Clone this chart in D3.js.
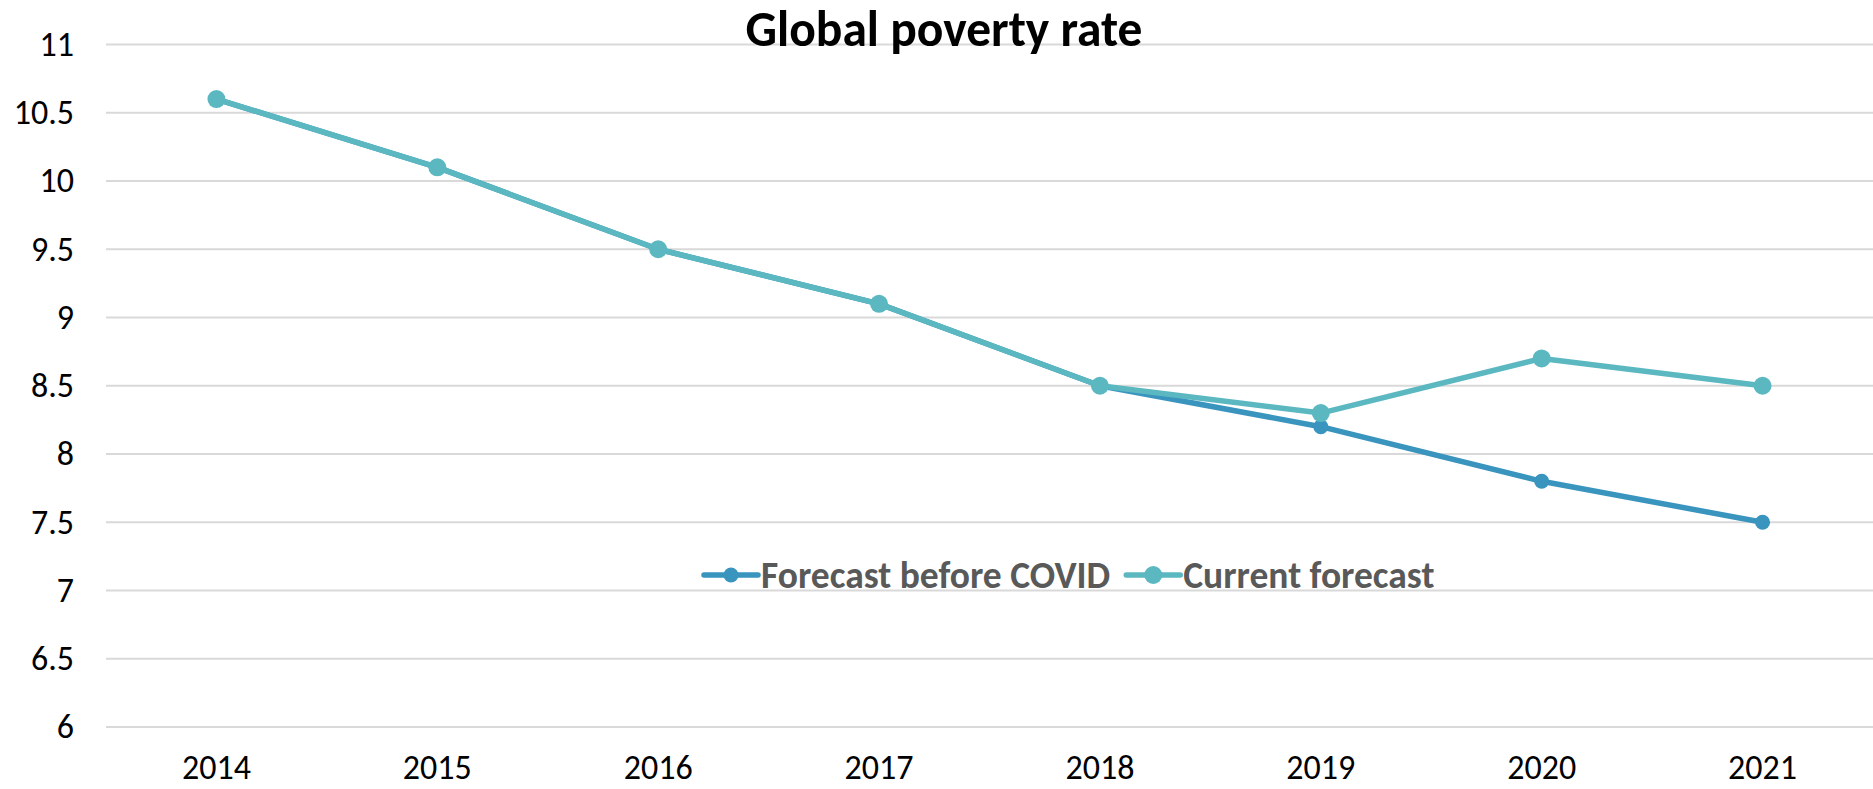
<!DOCTYPE html>
<html>
<head>
<meta charset="utf-8">
<script src="https://cdn.jsdelivr.net/npm/d3@7"></script>
<style>
  html, body { margin: 0; padding: 0; background: #fff; }
  svg { display: block; }
  text { font-family: Carlito, Lato, "Open Sans", sans-serif; }
</style>
</head>
<body>
<svg id="chart" width="1873" height="789"></svg>
<script>
// Chart data
const years = ["2014", "2015", "2016", "2017", "2018", "2019", "2020", "2021"];
const forecastBeforeCovid = [10.6, 10.1, 9.5, 9.1, 8.5, 8.2, 7.8, 7.5];
const currentForecast = [10.6, 10.1, 9.5, 9.1, 8.5, 8.3, 8.7, 8.5];
const yTicks = [6, 6.5, 7, 7.5, 8, 8.5, 9, 9.5, 10, 10.5, 11];
const seriesNames = ["Forecast before COVID", "Current forecast"];
const titleText = "Global poverty rate";

const W = 1873, H = 789;
const margin = { top: 44.5, right: 0, bottom: 62, left: 106 };
const tickFont = 34;

const svg = d3.select("#chart");

const x = d3.scaleBand()
  .domain(years)
  .range([margin.left, W - margin.right]);

const y = d3.scaleLinear()
  .domain([6, 11])
  .range([H - margin.bottom, margin.top]);

// Horizontal gridlines
svg.append("g")
  .selectAll("line")
  .data(yTicks)
  .join("line")
  .attr("x1", margin.left)
  .attr("x2", W - margin.right)
  .attr("y1", d => y(d))
  .attr("y2", d => y(d))
  .attr("stroke", "#d9d9d9")
  .attr("stroke-width", 2);

// Y axis labels
const yAxis = d3.axisLeft(y).tickValues(yTicks).tickSize(0).tickPadding(0)
  .tickFormat(d => String(d));
svg.append("g")
  .attr("transform", `translate(${74},0)`)
  .call(yAxis)
  .call(g => g.select(".domain").remove())
  .call(g => g.selectAll("text")
    .attr("font-size", tickFont)
    .attr("fill", "#000")
    .style("font-family", "Carlito, Lato, sans-serif"));

// X axis labels
const xAxis = d3.axisBottom(x).tickSize(0).tickPadding(0);
svg.append("g")
  .attr("transform", `translate(0,${H - margin.bottom + 28})`)
  .call(xAxis)
  .call(g => g.select(".domain").remove())
  .call(g => g.selectAll("text")
    .attr("font-size", tickFont)
    .attr("fill", "#000")
    .style("font-family", "Carlito, Lato, sans-serif"));

const colors = ["#3994be", "#5bb8c1"];
const radii = [7.5, 9];
const seriesData = [forecastBeforeCovid, currentForecast];

const line = d3.line()
  .x((d, i) => x(years[i]) + x.bandwidth() / 2)
  .y(d => y(d));

seriesData.forEach((vals, s) => {
  const g = svg.append("g");
  g.append("path")
    .datum(vals)
    .attr("d", line)
    .attr("fill", "none")
    .attr("stroke", colors[s])
    .attr("stroke-width", 5.5)
    .attr("stroke-linejoin", "round")
    .attr("stroke-linecap", "round");
  g.selectAll("circle")
    .data(vals)
    .join("circle")
    .attr("cx", (d, i) => x(years[i]) + x.bandwidth() / 2)
    .attr("cy", d => y(d))
    .attr("r", radii[s])
    .attr("fill", colors[s]);
});

// Title
svg.append("text")
  .attr("x", 944)
  .attr("y", 46)
  .attr("text-anchor", "middle")
  .attr("font-size", 49.5)
  .attr("font-weight", "bold")
  .attr("fill", "#000")
  .text(titleText);

// Legend
const legend = svg.append("g").attr("transform", "translate(702,575)");
let cursor = 0;
seriesNames.forEach((name, s) => {
  const item = legend.append("g").attr("transform", `translate(${cursor},0)`);
  item.append("line")
    .attr("x1", 2).attr("x2", 56)
    .attr("y1", 0).attr("y2", 0)
    .attr("stroke", colors[s])
    .attr("stroke-width", 5.5)
    .attr("stroke-linecap", "round");
  item.append("circle")
    .attr("cx", 29).attr("cy", 0)
    .attr("r", radii[s])
    .attr("fill", colors[s]);
  const t = item.append("text")
    .attr("x", 59)
    .attr("y", 13)
    .attr("font-size", 37.5)
    .attr("font-weight", "bold")
    .attr("fill", "#595959")
    .text(name);
  cursor += 59 + t.node().getComputedTextLength() + 14;
});
</script>
</body>
</html>
